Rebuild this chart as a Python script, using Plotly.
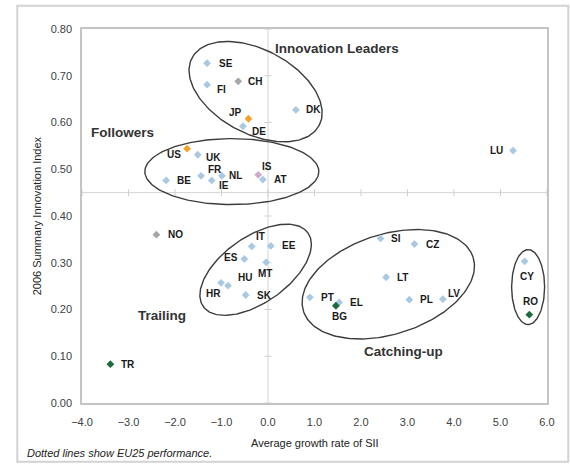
import numpy as np
import plotly.graph_objects as go

# ---- data ----
countries = ["SE", "FI", "CH", "JP", "DE", "DK", "US", "UK", "BE", "FR", "IE", "NL", "IS", "AT", "LU",
             "NO", "IT", "EE", "ES", "MT", "HU", "HR", "SK", "TR",
             "PT", "EL", "BG", "SI", "CZ", "LT", "PL", "LV", "CY", "RO"]
growth = [-1.31, -1.31, -0.64, -0.42, -0.54, 0.60, -1.74, -1.51, -2.19, -1.44, -1.21, -0.99, -0.21, -0.11, 5.27,
          -2.40, -0.35, 0.06, -0.51, -0.04, -0.86, -1.01, -0.48, -3.39,
          0.90, 1.53, 1.46, 2.42, 3.15, 2.54, 3.04, 3.76, 5.52, 5.62]
sii = [0.727, 0.681, 0.688, 0.608, 0.592, 0.627, 0.544, 0.531, 0.476, 0.486, 0.476, 0.486, 0.488, 0.478, 0.540,
       0.360, 0.335, 0.336, 0.308, 0.301, 0.251, 0.257, 0.231, 0.083,
       0.226, 0.215, 0.208, 0.352, 0.340, 0.269, 0.221, 0.222, 0.303, 0.189]
kind = ["eu", "eu", "other", "jpus", "eu", "eu", "jpus", "eu", "eu", "eu", "eu", "eu", "is", "eu", "eu",
        "other", "eu", "eu", "eu", "eu", "eu", "eu", "eu", "cand",
        "eu", "eu", "cand", "eu", "eu", "eu", "eu", "eu", "eu", "cand"]

x_ticks = [-4.0, -3.0, -2.0, -1.0, 0.0, 1.0, 2.0, 3.0, 4.0, 5.0, 6.0]
y_ticks = [0.0, 0.1, 0.2, 0.3, 0.4, 0.5, 0.6, 0.7, 0.8]
eu25_growth = 0.0
eu25_sii = 0.45

group_labels = ["Innovation Leaders", "Followers", "Trailing", "Catching-up"]
x_title = "Average growth rate of SII"
y_title = "2006 Summary Innovation Index"
footnote = "Dotted lines show EU25 performance."

# ---- styling / layout ----
W, H = 570, 464
ML, MR, MT, MB = 82, 23, 29, 61
pw, ph = W - ML - MR, H - MT - MB
PX_X = pw / (x_ticks[-1] - x_ticks[0])
PX_Y = ph / (y_ticks[-1] - y_ticks[0])


def px_to_paper(px, py):
    return (px - ML) / pw, ((H - MB) - py) / ph


colors = {"eu": "#a9c9e2", "other": "#a6a6a6", "jpus": "#f2a22c", "cand": "#1d6b3a", "is": "#cfa8cc"}

# label offsets in px: (anchor, dx, dy_screen)
label_pos = {
    "SE": ("left", 10, 0), "FI": ("left", 8, 5), "CH": ("left", 8, 0), "JP": ("right", -4, -6),
    "DE": ("left", 7, 5), "DK": ("left", 8, 0), "US": ("right", -4, 6), "UK": ("left", 6, 3),
    "BE": ("left", 9, 0), "FR": ("left", 5, -6), "IE": ("left", 5, 5), "NL": ("left", 5, 0),
    "IS": ("left", 2, -8), "AT": ("left", 9, 0), "LU": ("right", -8, 0), "NO": ("left", 10, 0),
    "IT": ("left", 2, -10), "EE": ("left", 9, 0), "ES": ("right", -4, -2), "MT": ("center", -1, 11),
    "HU": ("left", 8, -8), "HR": ("right", 2, 11), "SK": ("left", 9, 0), "TR": ("left", 9, 0),
    "PT": ("left", 9, 0), "EL": ("left", 9, 0), "BG": ("center", 4, 11), "SI": ("left", 8, 0),
    "CZ": ("left", 10, 0), "LT": ("left", 9, 0), "PL": ("left", 9, 0), "LV": ("left", 3, -6),
    "CY": ("center", 2, 15), "RO": ("center", 1, -13),
}

# group label positions (data coords, left-anchored)
group_xy = [(0.10, 0.759), (-3.84, 0.578), (-2.83, 0.187), (2.02, 0.110)]

# ellipses: centre (data), semi-axes px, rotation deg (clockwise on screen)
ellipses = [(-0.267, 0.666, 72, 42, 28), (-0.778, 0.495, 87, 33, 0), (-0.266, 0.285, 64, 33, -35),
            (2.587, 0.254, 89, 50, -17.6), (5.594, 0.248, 16.5, 37.5, 0)]

font = "Liberation Sans, Arial, sans-serif"
fig = go.Figure()

# EU25 reference lines
fig.add_shape(type="line", x0=eu25_growth, x1=eu25_growth, y0=y_ticks[0], y1=y_ticks[-1],
              line=dict(color="#d4d4d4", width=1), layer="below")
fig.add_shape(type="line", x0=x_ticks[0], x1=x_ticks[-1], y0=eu25_sii, y1=eu25_sii,
              line=dict(color="#d4d4d4", width=1), layer="below")
fig.add_trace(go.Scatter(x=x_ticks, y=[eu25_sii] * len(x_ticks), mode="markers",
                         marker=dict(symbol="line-ns-open", size=5, color="#d0d0d0",
                                     line=dict(color="#d0d0d0", width=1)),
                         hoverinfo="skip", showlegend=False))
fig.add_trace(go.Scatter(x=[eu25_growth] * len(y_ticks), y=y_ticks, mode="markers",
                         marker=dict(symbol="line-ew-open", size=5, color="#d0d0d0",
                                     line=dict(color="#d0d0d0", width=1)),
                         hoverinfo="skip", showlegend=False))

# ellipses
t = np.linspace(0, 2 * np.pi, 200)
for cx, cy, a, b, ang in ellipses:
    th = np.deg2rad(ang)
    u, v = a * np.cos(t), b * np.sin(t)
    dx = u * np.cos(th) - v * np.sin(th)
    dy = u * np.sin(th) + v * np.cos(th)
    fig.add_trace(go.Scatter(x=cx + dx / PX_X, y=cy - dy / PX_Y, mode="lines",
                             line=dict(color="#3c3c3c", width=1.4), hoverinfo="skip", showlegend=False))

# points
fig.add_trace(go.Scatter(x=growth, y=sii, mode="markers", text=countries,
                         marker=dict(symbol="diamond", size=6, color=[colors[k] for k in kind]),
                         showlegend=False, hovertemplate="%{text}: %{x}, %{y}<extra></extra>"))

# country labels
for c, gx, sy in zip(countries, growth, sii):
    anc, dx, dy = label_pos[c]
    fig.add_annotation(x=gx, y=sy, text=c, showarrow=False, xanchor=anc, yanchor="middle",
                       xshift=dx, yshift=-dy, font=dict(family=font, size=10, color="#1a1a1a", weight="bold"))

# group labels
for txt, (gx, gy) in zip(group_labels, group_xy):
    fig.add_annotation(x=gx, y=gy, text=txt, showarrow=False, xanchor="left", yanchor="middle",
                       font=dict(family=font, size=13.5, color="#333333", weight="bold"))

# axis titles
tx, ty = px_to_paper(314.5, 442.7)
fig.add_annotation(xref="paper", yref="paper", x=tx, y=ty, text=x_title, showarrow=False,
                   xanchor="center", yanchor="middle", font=dict(family=font, size=11, color="#222222"))
tx, ty = px_to_paper(37, 216.3)
fig.add_annotation(xref="paper", yref="paper", x=tx, y=ty, text=y_title, showarrow=False, textangle=-90,
                   xanchor="center", yanchor="middle", font=dict(family=font, size=11, color="#222222"))

# footnote
tx, ty = px_to_paper(25, 452.7)
fig.add_annotation(xref="paper", yref="paper", x=tx, y=ty, text="<i>" + footnote + "</i>", showarrow=False,
                   xanchor="left", yanchor="middle", font=dict(family=font, size=11, color="#222222"))

# outer frame
fx0, fy0 = px_to_paper(17.3, 461.7)
fx1, fy1 = px_to_paper(568.3, 5.7)
fig.add_shape(type="rect", xref="paper", yref="paper", x0=fx0, x1=fx1, y0=fy0, y1=fy1,
              line=dict(color="#d2d2d2", width=2))

fig.update_xaxes(range=[x_ticks[0], x_ticks[-1]], tickvals=x_ticks, tickformat=".1f",
                 showgrid=False, zeroline=False, showline=True, mirror=True, linecolor="#c4c4c4", linewidth=1.5,
                 ticks="outside", ticklen=8, tickcolor="rgba(0,0,0,0)",
                 tickfont=dict(family=font, size=11, color="#404040"))
fig.update_yaxes(range=[y_ticks[0], y_ticks[-1]], tickvals=y_ticks, tickformat=".2f",
                 showgrid=False, zeroline=False, showline=True, mirror=True, linecolor="#c4c4c4", linewidth=1.5,
                 ticks="outside", ticklen=6, tickcolor="rgba(0,0,0,0)",
                 tickfont=dict(family=font, size=11, color="#404040"))

fig.update_layout(width=W, height=H, margin=dict(l=ML, r=MR, t=MT, b=MB, pad=0),
                  paper_bgcolor="white", plot_bgcolor="white", showlegend=False)

fig.write_html("out.html", config={"displayModeBar": False},
               post_script="document.body.style.margin='0';document.body.style.overflow='hidden';")
